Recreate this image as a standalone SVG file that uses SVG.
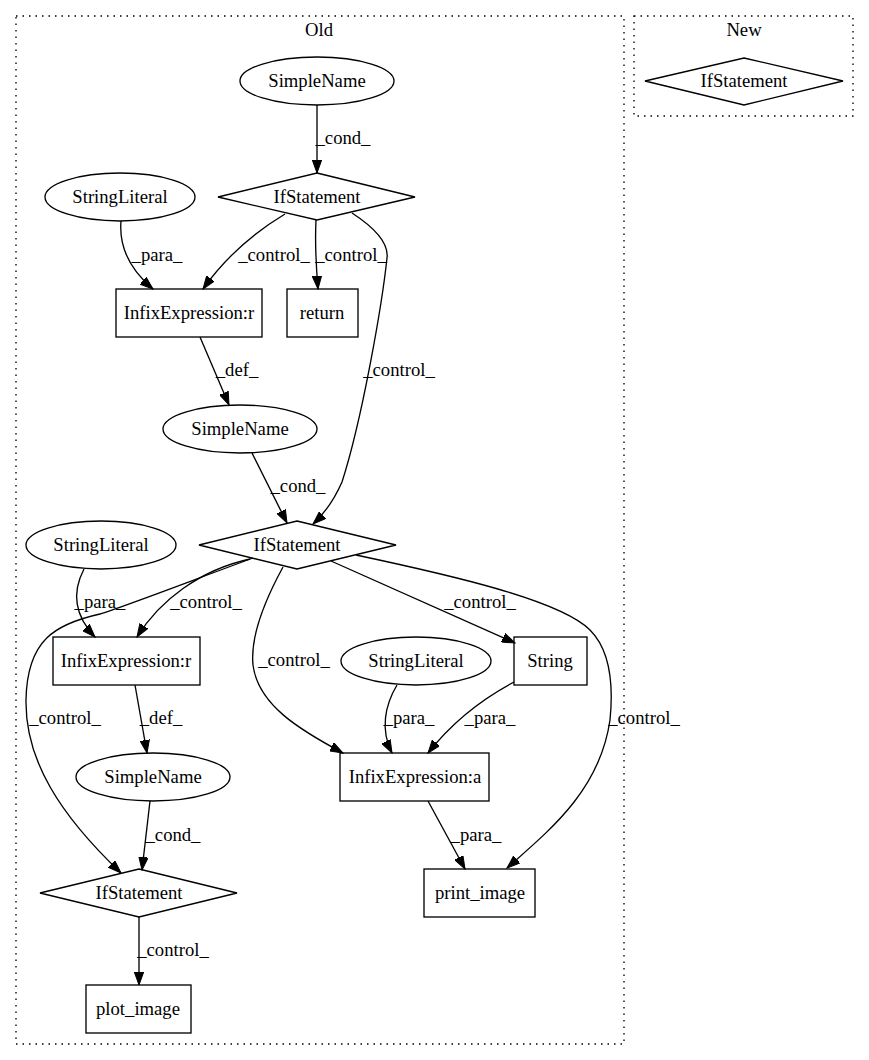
<svg xmlns="http://www.w3.org/2000/svg" width="869" height="1060" viewBox="0 0 869 1060">
<style>
text{font-family:"Liberation Serif","Times New Roman",serif;font-size:18.67px;fill:#000;text-anchor:middle}
.n{fill:none;stroke:#000;stroke-width:1.33}
.c{fill:none;stroke:#000;stroke-width:1.33;stroke-dasharray:1.5,5}
.e{fill:none;stroke:#000;stroke-width:1.33;marker-end:url(#ah)}
</style>
<defs>
<marker id="ah" markerUnits="userSpaceOnUse" markerWidth="14" markerHeight="10" refX="13" refY="5" orient="auto">
<path d="M0,0.3 L13,5 L0,9.7 Z" fill="#000" stroke="#000" stroke-width="1"/>
</marker>
</defs>
<rect width="869" height="1060" fill="#fff"/>
<g id="cluster_old">
<rect class="c" x="16" y="16" width="608" height="1028"/>
<text x="319" y="36">Old</text>
</g>
<g id="cluster_new">
<rect class="c" x="634" y="16" width="219" height="100"/>
<text x="744" y="36">New</text>
</g>
<g id="edges">
<path class="e" d="M317,105 V173"/>
<text x="343" y="144">_cond_</text>
<path class="e" d="M121,221 C119,245 128,268 153,289"/>
<text x="157" y="261">_para_</text>
<path class="e" d="M285,214 C255,232 225,258 203,289"/>
<text x="274" y="261">_control_</text>
<path class="e" d="M316,220 C315,240 316,265 318,289"/>
<text x="351" y="261">_control_</text>
<path class="e" d="M352,213 C375,228 389,243 387,258 C382,305 362,420 342,482 C335,498 326,512 313,524"/>
<text x="399" y="376">_control_</text>
<path class="e" d="M200,337 L229,405"/>
<text x="237" y="376">_def_</text>
<path class="e" d="M252,453 L287,523"/>
<text x="298" y="492">_cond_</text>
<path class="e" d="M84,569 C72,592 74,615 95,637"/>
<text x="100" y="608">_para_</text>
<path class="e" d="M250,559 C200,570 160,600 137,637"/>
<text x="206" y="608">_control_</text>
<path class="e" d="M253,558 C180,585 120,608 100,614 C55,624 27,640 26,700 C25,760 60,815 121,873"/>
<text x="65" y="724">_control_</text>
<path class="e" d="M283,567 C265,600 250,635 253,665 C258,705 300,730 343,753"/>
<text x="294" y="666">_control_</text>
<path class="e" d="M331,561 L515,643"/>
<text x="480" y="608">_control_</text>
<path class="e" d="M356,555 C450,575 560,600 590,630 C615,655 612,700 610,720 C600,790 550,830 507,868"/>
<text x="644" y="724">_control_</text>
<path class="e" d="M397,685 C385,705 380,730 392,753"/>
<text x="409" y="724">_para_</text>
<path class="e" d="M514,682 C480,700 450,725 428,753"/>
<text x="490" y="724">_para_</text>
<path class="e" d="M428,801 L465,869"/>
<text x="476" y="841">_para_</text>
<path class="e" d="M135,685 L147,753"/>
<text x="161" y="724">_def_</text>
<path class="e" d="M150,801 L142,870"/>
<text x="173" y="841">_cond_</text>
<path class="e" d="M139,917 V985"/>
<text x="173" y="956">_control_</text>
</g>
<g id="n_new_if">
<polygon class="n" points="744,58 843,81 744,105 645,81"/>
<text x="744" y="87">IfStatement</text>
</g>
<g id="n_simplename1">
<ellipse class="n" cx="317" cy="81" rx="77" ry="24"/>
<text x="317" y="87">SimpleName</text>
</g>
<g id="n_if1">
<polygon class="n" points="317,173 415,197 317,220 218,197"/>
<text x="317" y="203">IfStatement</text>
</g>
<g id="n_stringliteral1">
<ellipse class="n" cx="120" cy="197" rx="75" ry="24"/>
<text x="120" y="203">StringLiteral</text>
</g>
<g id="n_infixr1">
<rect class="n" x="116" y="289" width="146" height="48"/>
<text x="189" y="319">InfixExpression:r</text>
</g>
<g id="n_return">
<rect class="n" x="287" y="289" width="71" height="48"/>
<text x="322" y="319">return</text>
</g>
<g id="n_simplename2">
<ellipse class="n" cx="240" cy="429" rx="77" ry="24"/>
<text x="240" y="435">SimpleName</text>
</g>
<g id="n_if2">
<polygon class="n" points="297,521 396,545 297,569 199,545"/>
<text x="297" y="551">IfStatement</text>
</g>
<g id="n_stringliteral2">
<ellipse class="n" cx="101" cy="545" rx="75" ry="24"/>
<text x="101" y="551">StringLiteral</text>
</g>
<g id="n_infixr2">
<rect class="n" x="53" y="637" width="147" height="48"/>
<text x="126" y="667">InfixExpression:r</text>
</g>
<g id="n_stringliteral3">
<ellipse class="n" cx="416" cy="661" rx="75" ry="24"/>
<text x="416" y="667">StringLiteral</text>
</g>
<g id="n_string">
<rect class="n" x="514" y="637" width="73" height="48"/>
<text x="550" y="667">String</text>
</g>
<g id="n_simplename3">
<ellipse class="n" cx="153" cy="777" rx="77" ry="24"/>
<text x="153" y="783">SimpleName</text>
</g>
<g id="n_infixa">
<rect class="n" x="340" y="753" width="149" height="48"/>
<text x="415" y="783">InfixExpression:a</text>
</g>
<g id="n_if3">
<polygon class="n" points="139,869 237,893 139,917 40,893"/>
<text x="139" y="899">IfStatement</text>
</g>
<g id="n_print_image">
<rect class="n" x="424" y="869" width="111" height="48"/>
<text x="480" y="899">print_image</text>
</g>
<g id="n_plot_image">
<rect class="n" x="86" y="985" width="105" height="48"/>
<text x="138" y="1015">plot_image</text>
</g>
</svg>
